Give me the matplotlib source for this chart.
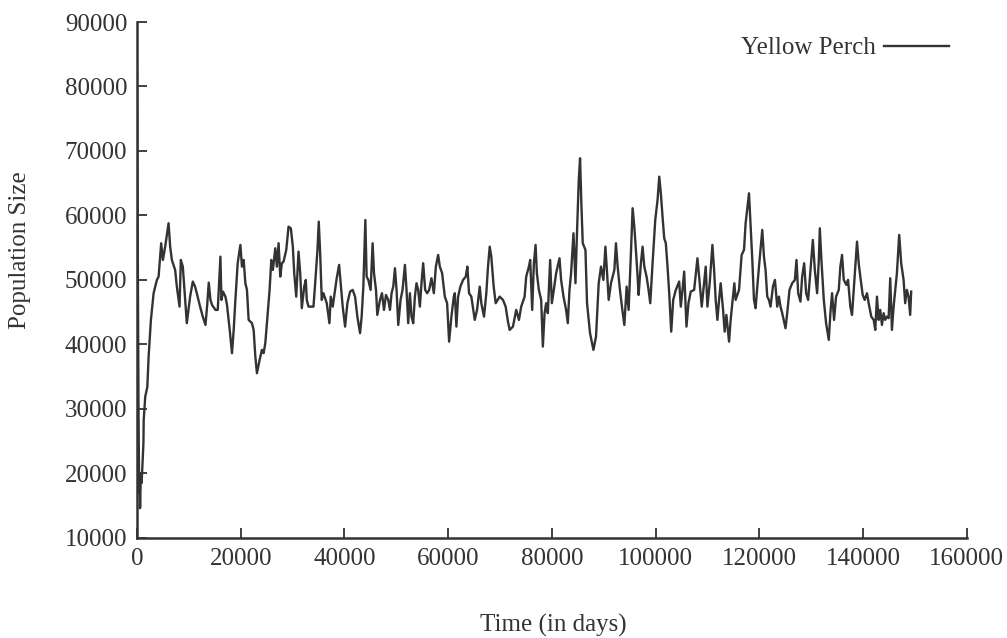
import matplotlib
matplotlib.use("Agg")
import matplotlib.pyplot as plt

# Time (days) and population size
time_days = [
    0, 150, 300, 420, 500, 600, 750, 900, 1250, 1300, 1600, 2000,
    2250, 2692, 3211, 3846, 4173, 4673, 5000, 5442, 6096, 6404, 6731, 7365,
    7692, 8211, 8461, 8846, 9288, 9615, 10250, 10769, 11211, 11538, 12173, 12692,
    13211, 13519, 13846, 14173, 14481, 15134, 15577, 16096, 16288, 16596, 17057, 17365,
    17884, 18327, 18654, 18981, 19423, 19942, 20250, 20577, 20904, 21211, 21538, 22173,
    22500, 22827, 23134, 23654, 24096, 24423, 24750, 25058, 25577, 25904, 26211, 26673,
    26981, 27308, 27635, 27942, 28269, 28788, 29231, 29673, 30058, 30327, 30711, 31154,
    31480, 31788, 32250, 32557, 32750, 33077, 34038, 34365, 34808, 35058, 35327, 35635,
    35962, 36596, 37115, 37365, 37750, 38211, 38519, 38981, 39288, 39673, 40134, 40577,
    41096, 41596, 42057, 42500, 43019, 43327, 43654, 44038, 44288, 44615, 45057, 45442,
    45711, 46096, 46346, 46865, 47250, 47634, 48019, 48461, 48788, 49096, 49423, 49750,
    50058, 50384, 50827, 51211, 51673, 51980, 52307, 52634, 52942, 53269, 53596, 53903,
    54230, 54557, 54865, 55192, 55577, 55961, 56346, 56788, 57250, 57634, 58076, 58403,
    58846, 59365, 59807, 60192, 60634, 61096, 61288, 61596, 61923, 62365, 62884, 63403,
    63711, 64038, 64481, 65134, 65577, 66096, 66404, 66923, 67365, 67692, 68019, 68327,
    68788, 69173, 69942, 70577, 71096, 71538, 71865, 72500, 73134, 73654, 74096, 74750,
    75058, 75577, 75827, 76211, 76538, 76865, 77115, 77500, 77942, 78269, 78596, 78903,
    79230, 79673, 80000, 80384, 80827, 81480, 81788, 82250, 82750, 83077, 83404, 83711,
    84173, 84557, 84807, 85192, 85442, 85711, 85961, 86480, 86788, 87365, 88019, 88519,
    89038, 89480, 89942, 90327, 90577, 90961, 91404, 92057, 92365, 92692, 93134, 93519,
    93980, 94423, 94807, 95250, 95577, 95904, 96211, 96538, 96730, 97173, 97500, 97827,
    98269, 98654, 98980, 99423, 99942, 100384, 100711, 101019, 101346, 101673, 101980, 102307,
    102634, 103019, 103404, 103903, 104557, 104865, 105192, 105519, 105961, 106346, 106788, 107442,
    108076, 108403, 108903, 109365, 109673, 110000, 110442, 110961, 111288, 111596, 111923, 112250,
    112557, 113019, 113327, 113654, 114173, 114480, 114942, 115192, 115442, 116096, 116596, 117057,
    117365, 118019, 118327, 118654, 118980, 119288, 119615, 120057, 120577, 120904, 121211, 121538,
    121865, 122173, 122634, 123019, 123461, 123788, 124096, 124423, 125058, 125384, 125827, 126346,
    126865, 127173, 127500, 127942, 128269, 128654, 129038, 129423, 129865, 130327, 130711, 131154,
    131480, 131673, 131980, 132442, 132884, 133403, 133711, 134038, 134423, 134807, 135327, 135634,
    135961, 136288, 136788, 137115, 137557, 137884, 138211, 138519, 138846, 139173, 139480, 139942,
    140327, 140769, 141096, 141596, 142057, 142365, 142692, 143019, 143327, 143654, 143980, 144288,
    144615, 144942, 145250, 145577, 145904, 146211, 146538, 146980, 147365, 147827, 148134, 148461,
    148788, 149096, 149288,
]

population = [
    82500, 55000, 30000, 17000, 20000, 14600, 20000, 18500, 24700, 28300, 31900, 33400,
    38110, 43800, 47940, 50000, 50510, 55690, 53100, 55160, 58790, 55160, 53100, 51550,
    48960, 45860, 53100, 52060, 46900, 43290, 47410, 49740, 48960, 47940, 45860, 44310,
    43020, 45860, 49580, 46900, 46120, 45350, 45350, 53610, 46900, 48190, 47410, 46120,
    42250, 38640, 42250, 46900, 52590, 55430, 52060, 53100, 49490, 48450, 43800, 43290,
    42250, 38110, 35530, 37600, 39150, 38640, 40190, 43290, 48450, 53100, 51550, 54910,
    52060, 55690, 50510, 52590, 52840, 54650, 58260, 58010, 55160, 51040, 47410, 54390,
    51040, 45610, 48960, 50000, 46900, 45860, 45860, 49490, 54650, 59040, 54140, 46900,
    47940, 46390, 43290, 47410, 45860, 48450, 50260, 52330, 49490, 45860, 42760, 46390,
    48190, 48450, 47410, 44310, 41740, 44310, 48960, 59300, 50510, 50000, 48450, 55690,
    51040, 48450, 44570, 46900, 47940, 45350, 47670, 46900, 45350, 47940, 48960, 51810,
    48450, 43020, 46900, 48450, 52330, 48450, 43290, 47940, 44310, 43290, 47410, 49490,
    48450, 45860, 49490, 52590, 48450, 47940, 48450, 50260, 47940, 52060, 53880, 52060,
    51040, 47410, 46390, 40430, 44310, 47410, 47940, 42760, 47410, 48960, 50000, 50510,
    52060, 47940, 47410, 43800, 45350, 48960, 46390, 44310, 47940, 52060, 55160, 53610,
    48960, 46390, 47410, 46900, 45860, 43540, 42250, 42760, 45350, 43800, 45860, 47410,
    50510, 52060, 53100, 45350, 52590, 55430, 51040, 48450, 46900, 39660, 44840, 46390,
    44840, 53100, 46390, 48450, 51040, 53360, 50000, 47410, 45350, 43290, 48450, 51040,
    57240, 49490, 56200, 65500, 68870, 61370, 55690, 54650, 46390, 41740, 39150, 41210,
    49490, 52060, 50000, 55160, 52060, 46900, 49490, 51550, 55690, 52060, 48450, 45860,
    43020, 48960, 45350, 54140, 61120, 58260, 54650, 50510, 47670, 52590, 55160, 52060,
    50510, 48450, 46390, 52590, 59300, 62400, 66020, 63440, 59810, 56460, 55690, 52060,
    47940, 41980, 46900, 48450, 49740, 45860, 48450, 51290, 42760, 46390, 48190, 48450,
    53360, 50510, 45860, 49490, 52060, 45860, 49490, 55430, 51550, 46900, 43800, 46900,
    49490, 45350, 41980, 44570, 40430, 43800, 47410, 49490, 46900, 48450, 53880, 54650,
    58790, 63440, 58260, 53100, 46900, 45610, 48960, 53100, 57750, 53610, 51550, 47410,
    46900, 45860, 48960, 50000, 45860, 47410, 45860, 44840, 42510, 44840, 48450, 49490,
    50000, 53100, 47940, 46630, 50510, 52590, 47940, 46900, 51550, 56200, 51550, 47940,
    53100, 58010, 53100, 46900, 43290, 40700, 44840, 47940, 43800, 47410, 48450, 52060,
    53880, 50000, 49230, 50000, 45860, 44570, 48450, 52060, 55940, 52590, 50510, 47670,
    46900, 47940, 46390, 44310, 43800, 42250, 47410, 43800, 45350, 43020, 44840, 43800,
    44310, 44060, 50260, 42250, 45860, 48450, 51040, 56980, 52590, 50000, 46390, 48450,
    47410, 44570, 48190,
]

x_ticks = [0, 20000, 40000, 60000, 80000, 100000, 120000, 140000, 160000]
y_ticks = [10000, 20000, 30000, 40000, 50000, 60000, 70000, 80000, 90000]
series_label = "Yellow Perch"
x_label = "Time (in days)"
y_label = "Population Size"

ink = "#333333"
plt.rcParams["font.family"] = ["Liberation Serif", "DejaVu Serif"]
fs = 18

fig = plt.figure(figsize=(10.07, 6.38), dpi=100)
ax = fig.add_axes([0.136, 0.157, 0.824, 0.8085])

ax.plot(time_days, population, color=ink, lw=1.7, label=series_label)

ax.set_xlim(0, 160000)
ax.set_ylim(10000, 90000)
ax.set_xticks(x_ticks)
ax.set_yticks(y_ticks)
ax.set_xticklabels([str(v) for v in x_ticks])
ax.set_yticklabels([str(v) for v in y_ticks])

for s in ["top", "right"]:
    ax.spines[s].set_visible(False)
for s in ["left", "bottom"]:
    ax.spines[s].set_color(ink)
    ax.spines[s].set_linewidth(1.8)

ax.tick_params(direction="in", length=7, width=1.3, color=ink,
               labelsize=fs, labelcolor=ink, pad=7)

fig.text(553 / 1007, 1 - 625 / 638, x_label, fontsize=fs, color=ink,
         ha="center", va="center")
fig.text(20 / 1007, 1 - 250 / 638, y_label, fontsize=fs, color=ink,
         ha="center", va="center", rotation=90)

leg = ax.legend(loc="upper right", bbox_to_anchor=(1.0, 1.005), frameon=False,
                markerfirst=False, fontsize=fs, handlelength=2.6,
                handletextpad=0.35, borderaxespad=0.3)
for t in leg.get_texts():
    t.set_color(ink)

fig.savefig("out.png", dpi=100)
